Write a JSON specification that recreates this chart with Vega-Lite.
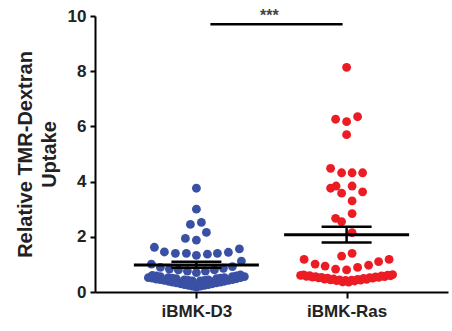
{
  "$schema": "https://vega.github.io/schema/vega-lite/v6.json",
  "autosize": "none",
  "width": 353,
  "height": 276,
  "padding": {"left": 95, "top": 16, "right": 4, "bottom": 39},
  "background": "white",
  "config": {
    "view": {"stroke": null},
    "axis": {
      "grid": false,
      "domainColor": "#000000",
      "domainWidth": 2,
      "tickColor": "#000000",
      "tickWidth": 2,
      "labelFont": "Liberation Sans",
      "labelFontWeight": "bold",
      "labelFontSize": 17,
      "labelColor": "#222222",
      "titleFont": "Liberation Sans",
      "titleFontWeight": "bold",
      "titleFontSize": 20,
      "titleColor": "#222222"
    }
  },
  "datasets": {
    "points": [
      {"group": "iBMK-D3", "value": 3.76, "swarm": 0},
      {"group": "iBMK-D3", "value": 3.0, "swarm": 0},
      {"group": "iBMK-D3", "value": 2.52, "swarm": 5},
      {"group": "iBMK-D3", "value": 2.45, "swarm": -6},
      {"group": "iBMK-D3", "value": 2.16, "swarm": 10},
      {"group": "iBMK-D3", "value": 1.94, "swarm": -11},
      {"group": "iBMK-D3", "value": 1.88, "swarm": 0},
      {"group": "iBMK-D3", "value": 1.62, "swarm": -42},
      {"group": "iBMK-D3", "value": 1.45, "swarm": -32},
      {"group": "iBMK-D3", "value": 1.40, "swarm": -21},
      {"group": "iBMK-D3", "value": 1.40, "swarm": -10},
      {"group": "iBMK-D3", "value": 1.33, "swarm": 0},
      {"group": "iBMK-D3", "value": 1.37, "swarm": 11},
      {"group": "iBMK-D3", "value": 1.40, "swarm": 21},
      {"group": "iBMK-D3", "value": 1.44, "swarm": 32},
      {"group": "iBMK-D3", "value": 1.56, "swarm": 43},
      {"group": "iBMK-D3", "value": 1.12, "swarm": 45},
      {"group": "iBMK-D3", "value": 1.01, "swarm": -45},
      {"group": "iBMK-D3", "value": 0.89, "swarm": -36},
      {"group": "iBMK-D3", "value": 0.83, "swarm": -27},
      {"group": "iBMK-D3", "value": 0.80, "swarm": -18},
      {"group": "iBMK-D3", "value": 0.76, "swarm": -9},
      {"group": "iBMK-D3", "value": 0.70, "swarm": 0},
      {"group": "iBMK-D3", "value": 0.76, "swarm": 9},
      {"group": "iBMK-D3", "value": 0.80, "swarm": 18},
      {"group": "iBMK-D3", "value": 0.86, "swarm": 27},
      {"group": "iBMK-D3", "value": 0.92, "swarm": 36},
      {"group": "iBMK-D3", "value": 0.52, "swarm": -48},
      {"group": "iBMK-D3", "value": 0.47, "swarm": -40},
      {"group": "iBMK-D3", "value": 0.42, "swarm": -32},
      {"group": "iBMK-D3", "value": 0.36, "swarm": -24},
      {"group": "iBMK-D3", "value": 0.30, "swarm": -16},
      {"group": "iBMK-D3", "value": 0.24, "swarm": -8},
      {"group": "iBMK-D3", "value": 0.18, "swarm": 0},
      {"group": "iBMK-D3", "value": 0.24, "swarm": 8},
      {"group": "iBMK-D3", "value": 0.30, "swarm": 16},
      {"group": "iBMK-D3", "value": 0.36, "swarm": 24},
      {"group": "iBMK-D3", "value": 0.42, "swarm": 32},
      {"group": "iBMK-D3", "value": 0.48, "swarm": 40},
      {"group": "iBMK-D3", "value": 0.56, "swarm": 48},
      {"group": "iBMK-D3", "value": 0.60, "swarm": -44},
      {"group": "iBMK-D3", "value": 0.56, "swarm": -36},
      {"group": "iBMK-D3", "value": 0.52, "swarm": -28},
      {"group": "iBMK-D3", "value": 0.48, "swarm": -20},
      {"group": "iBMK-D3", "value": 0.44, "swarm": -12},
      {"group": "iBMK-D3", "value": 0.40, "swarm": -4},
      {"group": "iBMK-D3", "value": 0.40, "swarm": 4},
      {"group": "iBMK-D3", "value": 0.44, "swarm": 12},
      {"group": "iBMK-D3", "value": 0.48, "swarm": 20},
      {"group": "iBMK-D3", "value": 0.52, "swarm": 28},
      {"group": "iBMK-D3", "value": 0.56, "swarm": 36},
      {"group": "iBMK-D3", "value": 0.62, "swarm": 44},
      {"group": "iBMK-D3", "value": 0.50, "swarm": -44},
      {"group": "iBMK-D3", "value": 0.45, "swarm": -36},
      {"group": "iBMK-D3", "value": 0.39, "swarm": -28},
      {"group": "iBMK-D3", "value": 0.33, "swarm": -20},
      {"group": "iBMK-D3", "value": 0.27, "swarm": -12},
      {"group": "iBMK-D3", "value": 0.21, "swarm": -4},
      {"group": "iBMK-D3", "value": 0.21, "swarm": 4},
      {"group": "iBMK-D3", "value": 0.27, "swarm": 12},
      {"group": "iBMK-D3", "value": 0.33, "swarm": 20},
      {"group": "iBMK-D3", "value": 0.39, "swarm": 28},
      {"group": "iBMK-D3", "value": 0.45, "swarm": 36},
      {"group": "iBMK-D3", "value": 0.52, "swarm": 44},
      {"group": "iBMK-D3", "value": 0.58, "swarm": -40},
      {"group": "iBMK-D3", "value": 0.50, "swarm": -24},
      {"group": "iBMK-D3", "value": 0.42, "swarm": -8},
      {"group": "iBMK-D3", "value": 0.42, "swarm": 8},
      {"group": "iBMK-D3", "value": 0.50, "swarm": 24},
      {"group": "iBMK-D3", "value": 0.58, "swarm": 40},
      {"group": "iBMK-Ras", "value": 8.14, "swarm": 0},
      {"group": "iBMK-Ras", "value": 6.26, "swarm": -11},
      {"group": "iBMK-Ras", "value": 6.17, "swarm": 0},
      {"group": "iBMK-Ras", "value": 6.35, "swarm": 11},
      {"group": "iBMK-Ras", "value": 5.70, "swarm": 0},
      {"group": "iBMK-Ras", "value": 4.48, "swarm": -16},
      {"group": "iBMK-Ras", "value": 4.32, "swarm": -5},
      {"group": "iBMK-Ras", "value": 4.32, "swarm": 5.5},
      {"group": "iBMK-Ras", "value": 4.32, "swarm": 16},
      {"group": "iBMK-Ras", "value": 3.76, "swarm": -16},
      {"group": "iBMK-Ras", "value": 3.84, "swarm": -10.5},
      {"group": "iBMK-Ras", "value": 3.58, "swarm": -5},
      {"group": "iBMK-Ras", "value": 3.84, "swarm": 5.5},
      {"group": "iBMK-Ras", "value": 3.63, "swarm": 16},
      {"group": "iBMK-Ras", "value": 3.30, "swarm": 5.5},
      {"group": "iBMK-Ras", "value": 2.84, "swarm": 5.5},
      {"group": "iBMK-Ras", "value": 2.67, "swarm": -11},
      {"group": "iBMK-Ras", "value": 2.55, "swarm": -5},
      {"group": "iBMK-Ras", "value": 2.15, "swarm": 5.5},
      {"group": "iBMK-Ras", "value": 1.30, "swarm": -5},
      {"group": "iBMK-Ras", "value": 1.40, "swarm": 5.5},
      {"group": "iBMK-Ras", "value": 1.18, "swarm": -42.5},
      {"group": "iBMK-Ras", "value": 1.01, "swarm": -31.5},
      {"group": "iBMK-Ras", "value": 0.94, "swarm": -21.5},
      {"group": "iBMK-Ras", "value": 0.83, "swarm": -11},
      {"group": "iBMK-Ras", "value": 0.80, "swarm": 0},
      {"group": "iBMK-Ras", "value": 0.89, "swarm": 11},
      {"group": "iBMK-Ras", "value": 0.97, "swarm": 22},
      {"group": "iBMK-Ras", "value": 1.10, "swarm": 32},
      {"group": "iBMK-Ras", "value": 1.18, "swarm": 42.5},
      {"group": "iBMK-Ras", "value": 0.60, "swarm": -46},
      {"group": "iBMK-Ras", "value": 0.57, "swarm": -40},
      {"group": "iBMK-Ras", "value": 0.54, "swarm": -34},
      {"group": "iBMK-Ras", "value": 0.51, "swarm": -28},
      {"group": "iBMK-Ras", "value": 0.47, "swarm": -22},
      {"group": "iBMK-Ras", "value": 0.44, "swarm": -16},
      {"group": "iBMK-Ras", "value": 0.41, "swarm": -10},
      {"group": "iBMK-Ras", "value": 0.37, "swarm": -4},
      {"group": "iBMK-Ras", "value": 0.36, "swarm": 2},
      {"group": "iBMK-Ras", "value": 0.40, "swarm": 8},
      {"group": "iBMK-Ras", "value": 0.43, "swarm": 14},
      {"group": "iBMK-Ras", "value": 0.46, "swarm": 20},
      {"group": "iBMK-Ras", "value": 0.50, "swarm": 26},
      {"group": "iBMK-Ras", "value": 0.53, "swarm": 32},
      {"group": "iBMK-Ras", "value": 0.56, "swarm": 38},
      {"group": "iBMK-Ras", "value": 0.59, "swarm": 44},
      {"group": "iBMK-Ras", "value": 0.62, "swarm": -43},
      {"group": "iBMK-Ras", "value": 0.59, "swarm": -37},
      {"group": "iBMK-Ras", "value": 0.56, "swarm": -31},
      {"group": "iBMK-Ras", "value": 0.53, "swarm": -25},
      {"group": "iBMK-Ras", "value": 0.50, "swarm": -19},
      {"group": "iBMK-Ras", "value": 0.47, "swarm": -13},
      {"group": "iBMK-Ras", "value": 0.44, "swarm": -7},
      {"group": "iBMK-Ras", "value": 0.42, "swarm": -1},
      {"group": "iBMK-Ras", "value": 0.43, "swarm": 5},
      {"group": "iBMK-Ras", "value": 0.46, "swarm": 11},
      {"group": "iBMK-Ras", "value": 0.49, "swarm": 17},
      {"group": "iBMK-Ras", "value": 0.52, "swarm": 23},
      {"group": "iBMK-Ras", "value": 0.55, "swarm": 29},
      {"group": "iBMK-Ras", "value": 0.58, "swarm": 35},
      {"group": "iBMK-Ras", "value": 0.61, "swarm": 41},
      {"group": "iBMK-Ras", "value": 0.63, "swarm": 46}
    ],
    "summary": [
      {"group": "iBMK-D3", "mean": 0.98, "lo": 0.88, "hi": 1.10},
      {"group": "iBMK-Ras", "mean": 2.07, "lo": 1.79, "hi": 2.36}
    ]
  },
  "layer": [
    {
      "data": {"name": "points"},
      "mark": {"type": "circle", "size": 78, "opacity": 1},
      "encoding": {
        "x": {
          "field": "group", "type": "nominal",
          "scale": {"type": "point", "padding": 0.675, "domain": ["iBMK-D3", "iBMK-Ras"]},
          "axis": {"title": null, "labelAngle": 0, "tickSize": 6, "labelPadding": 5}
        },
        "xOffset": {"field": "swarm", "type": "quantitative", "scale": {"domain": [-100, 100], "range": [-100, 100]}},
        "y": {
          "field": "value", "type": "quantitative",
          "scale": {"domain": [0, 10], "nice": false},
          "axis": {"values": [0, 2, 4, 6, 8, 10], "tickSize": 5, "labelPadding": 4, "title": ["Relative TMR-Dextran", "Uptake"], "titlePadding": 8, "titleLineHeight": 24}
        },
        "color": {"field": "group", "type": "nominal", "scale": {"domain": ["iBMK-D3", "iBMK-Ras"], "range": ["#3A50A4", "#EC1C24"]}, "legend": null}
      }
    },
    {
      "data": {"name": "summary"},
      "mark": {"type": "rule", "color": "#000000", "strokeWidth": 2.5},
      "encoding": {
        "x": {"field": "group", "type": "nominal"},
        "y": {"field": "lo", "type": "quantitative", "title": ["Relative TMR-Dextran", "Uptake"]},
        "y2": {"field": "hi"}
      }
    },
    {
      "data": {"name": "summary"},
      "mark": {"type": "tick", "color": "#000000", "size": 50, "thickness": 2.5, "opacity": 1},
      "encoding": {
        "x": {"field": "group", "type": "nominal"},
        "y": {"field": "lo", "type": "quantitative", "title": ["Relative TMR-Dextran", "Uptake"]}
      }
    },
    {
      "data": {"name": "summary"},
      "mark": {"type": "tick", "color": "#000000", "size": 50, "thickness": 2.5, "opacity": 1},
      "encoding": {
        "x": {"field": "group", "type": "nominal"},
        "y": {"field": "hi", "type": "quantitative", "title": ["Relative TMR-Dextran", "Uptake"]}
      }
    },
    {
      "data": {"name": "summary"},
      "mark": {"type": "tick", "color": "#000000", "size": 125, "thickness": 3, "opacity": 1},
      "encoding": {
        "x": {"field": "group", "type": "nominal"},
        "y": {"field": "mean", "type": "quantitative", "title": ["Relative TMR-Dextran", "Uptake"]}
      }
    },
    {
      "data": {"values": [{"label": "***"}]},
      "mark": {"type": "rule", "color": "#000000", "strokeWidth": 2.5, "xOffset": 14, "x2Offset": -4},
      "encoding": {
        "x": {"datum": "iBMK-D3"},
        "x2": {"datum": "iBMK-Ras"},
        "y": {"datum": 9.7}
      }
    },
    {
      "data": {"values": [{"label": "***"}]},
      "mark": {"type": "text", "color": "#444444", "font": "Liberation Sans", "fontWeight": "bold", "fontSize": 16, "dx": 73, "dy": 3, "baseline": "middle", "align": "center"},
      "encoding": {
        "x": {"datum": "iBMK-D3"},
        "y": {"datum": 10.1},
        "text": {"field": "label"}
      }
    }
  ]
}
